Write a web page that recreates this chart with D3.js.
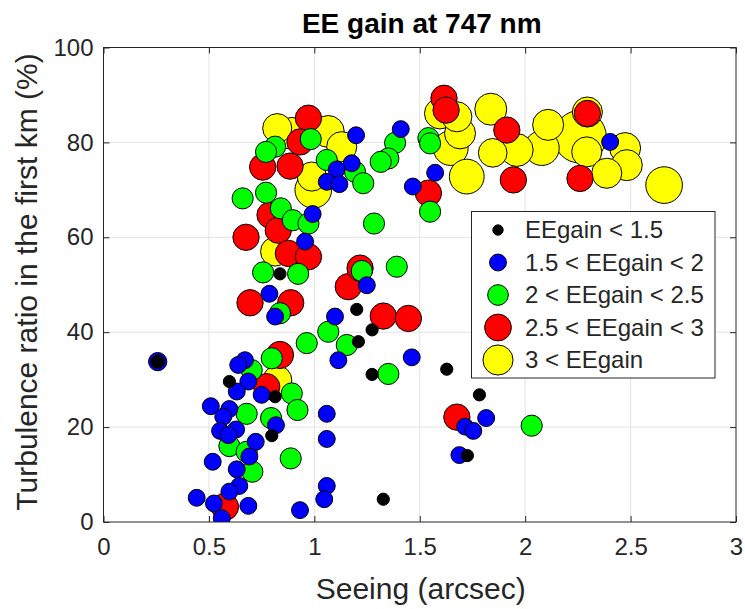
<!DOCTYPE html>
<html><head><meta charset="utf-8">
<script src="https://cdn.jsdelivr.net/npm/d3@7"></script>
<style>
body{margin:0;background:#fff}
svg{display:block}
text{font-family:"Liberation Sans",Arial,Helvetica,sans-serif}
</style>
</head><body>
<svg id="chart" width="745" height="609"></svg>
<script>
// ---- data ----
const title = "EE gain at 747 nm";
const xLabel = "Seeing (arcsec)";
const yLabel = "Turbulence ratio in the first km (%)";
const xTicks = [0, 0.5, 1, 1.5, 2, 2.5, 3];
const yTicks = [0, 20, 40, 60, 80, 100];
const classEdges = [1.5, 2, 2.5, 3];
const classLabels = ["EEgain < 1.5", "1.5 < EEgain < 2", "2 < EEgain < 2.5", "2.5 < EEgain < 3", "3 < EEgain"];
const classColors = ["#000000", "#0000ff", "#00ff00", "#ff0000", "#ffff00"];
const legendGain = [1.1, 1.8, 2.2, 2.85, 3.2];

// black
const seeingK = [0.257,0.837,1.201,1.209,1.274,1.274,0.597,0.814,0.798,1.628,1.783,1.726,1.327];
const ratioK  = [33.8,52.3,44.8,38.0,40.5,31.1,29.6,26.4,18.2,32.2,26.8,14.0,4.8];
const gainK   = [1.45,1.3,1.3,1.3,1.3,1.3,1.3,1.3,1.3,1.3,1.3,1.3,1.3];
// blue
const seeingB = [0.257,1.249,0.787,0.814,1.098,1.114,0.671,0.639,0.687,0.632,0.750,0.509,0.597,0.568,0.818,0.553,0.629,0.592,0.722,0.692,1.059,1.059,0.518,0.632,0.644,0.597,1.059,1.047,0.442,0.524,0.561,0.687,0.932,1.198,1.177,1.106,1.059,1.119,0.992,0.956,1.410,1.573,1.467,1.462,1.715,1.754,1.815,1.688,2.403];
const ratioB  = [33.8,49.9,48.1,43.3,43.3,34.1,34.1,33.1,29.6,27.5,26.8,24.4,23.8,22.2,20.4,19.2,19.5,18.3,16.9,13.8,22.8,17.5,12.7,11.1,7.6,6.4,7.6,4.8,5.1,3.9,0.8,3.4,2.5,81.5,75.6,74.3,71.7,71.2,64.9,59.1,82.8,73.6,70.7,34.7,20.1,19.2,21.9,14.1,80.1];
const gainB   = [1.95,1.8,1.8,1.8,1.8,1.8,1.8,1.8,1.8,1.8,1.8,1.8,1.8,1.8,1.8,1.8,1.8,1.8,1.8,1.8,1.8,1.8,1.8,1.8,1.8,1.8,1.8,1.8,1.8,1.8,1.8,1.8,1.8,1.8,1.8,1.8,1.8,1.8,1.8,1.8,1.8,1.8,1.8,1.8,1.8,1.8,1.8,1.8,1.8];
// green
const seeingG = [0.757,0.923,0.837,1.066,0.964,1.154,0.798,0.703,0.893,0.920,0.679,0.795,0.597,0.679,0.888,0.706,0.983,0.814,0.771,1.059,1.193,1.232,0.660,0.771,0.841,0.898,0.972,1.283,1.541,1.549,1.383,1.351,1.315,1.549,1.391,1.225,1.351,2.031];
const ratioG  = [52.6,52.3,44.0,40.1,37.7,37.3,34.5,32.0,27.1,23.6,22.8,21.9,16.0,14.8,13.4,10.6,80.7,79.1,78.0,76.3,73.8,71.4,68.2,69.4,66.1,63.6,62.9,62.9,80.9,79.8,79.9,76.6,75.9,65.4,53.8,52.9,31.2,20.3];
const gainG   = [2.25,2.25,2.25,2.25,2.25,2.25,2.25,2.25,2.25,2.25,2.25,2.25,2.25,2.25,2.25,2.25,2.25,2.25,2.25,2.25,2.25,2.25,2.25,2.25,2.25,2.25,2.25,2.25,2.25,2.25,2.25,2.25,2.25,2.25,2.25,2.25,2.25,2.25];
// red
const seeingR = [1.161,0.695,0.888,0.837,0.774,0.576,0.972,0.932,0.755,0.885,0.790,0.829,0.676,0.877,0.972,1.217,1.615,1.625,1.913,1.944,1.541,1.327,1.446,1.676,2.295,2.260];
const ratioR  = [49.6,46.2,46.2,35.2,28.5,3.2,85.1,80.1,74.8,75.0,64.7,61.5,60.0,56.6,55.9,53.5,89.3,86.8,82.6,72.1,69.3,43.4,42.9,22.1,86.1,72.4];
const gainR   = [2.8,2.8,2.8,2.9,2.8,2.9,2.8,2.8,2.8,2.8,2.8,2.8,2.8,2.8,2.8,2.8,2.8,2.8,2.8,2.8,2.8,2.8,2.8,2.8,2.8,2.8];
// yellow
const seeingY = [0.824,0.893,1.066,1.130,0.988,0.995,0.814,0.824,1.596,1.676,1.691,1.647,1.837,1.846,1.960,2.079,2.109,2.260,2.474,2.292,2.482,2.387,1.723,2.659,2.295];
const ratioY  = [83.0,81.9,82.3,79.1,72.8,70.0,57.0,29.9,86.1,85.4,81.9,78.8,87.0,77.8,78.4,78.8,83.7,81.2,78.8,78.0,75.2,73.5,72.8,71.0,86.4];
const gainY   = [3.1,3.4,3.4,3.2,3.1,3.9,3.1,3.1,3.3,3.2,3.3,3.7,3.4,3.05,3.5,3.7,3.3,5.6,3.3,3.2,3.3,3.2,3.7,3.9,3.2];

// ---- layout ----
const svg = d3.select("#chart");
const W = 745, H = 609;
const plot = {left: 103.5, top: 47.5, right: 736, bottom: 522};
const axisColor = "#262626";
const gridColor = "#e3e3e3";
const x = d3.scaleLinear().domain([0, 3]).range([plot.left, plot.right]);
const y = d3.scaleLinear().domain([0, 100]).range([plot.bottom, plot.top]);
const diam = d3.scaleLinear().domain([0, 1]).range([0, 9.4]);
const colorOf = d3.scaleThreshold().domain(classEdges).range(classColors);

svg.append("rect").attr("width", W).attr("height", H).attr("fill", "#fff");

// grid
const grid = svg.append("g");
grid.selectAll(".gx").data(xTicks.slice(1, -1)).join("line")
  .attr("x1", d => x(d)).attr("x2", d => x(d))
  .attr("y1", plot.top).attr("y2", plot.bottom)
  .attr("stroke", gridColor).attr("stroke-width", 1);
grid.selectAll(".gy").data(yTicks.slice(1, -1)).join("line")
  .attr("y1", d => y(d)).attr("y2", d => y(d))
  .attr("x1", plot.left).attr("x2", plot.right)
  .attr("stroke", gridColor).attr("stroke-width", 1);

// points
const pts = [];
function addPts(S, R, G) { S.forEach((s, i) => pts.push({s, r: R[i], g: G[i]})); }
addPts(seeingK, ratioK, gainK);
addPts(seeingB, ratioB, gainB);
addPts(seeingG, ratioG, gainG);
addPts(seeingR, ratioR, gainR);
addPts(seeingY, ratioY, gainY);
pts.sort((a, b) => b.g - a.g);

svg.append("defs").append("clipPath").attr("id", "clip")
  .append("rect").attr("x", plot.left).attr("y", plot.top)
  .attr("width", plot.right - plot.left).attr("height", plot.bottom - plot.top);

svg.append("g").attr("clip-path", "url(#clip)")
  .selectAll("circle").data(pts).join("circle")
  .attr("cx", d => x(d.s)).attr("cy", d => y(d.r))
  .attr("r", d => diam(d.g) / 2)
  .attr("fill", d => colorOf(d.g))
  .attr("stroke", "#000").attr("stroke-width", 1);

// axes
function styleAxis(g) {
  g.select(".domain").remove();
  g.selectAll(".tick line").attr("stroke", axisColor);
  g.selectAll(".tick text").attr("fill", axisColor).style("font-size", "24px");
}
svg.append("g").attr("transform", `translate(0,${plot.bottom})`)
  .call(d3.axisBottom(x).tickValues(xTicks).tickSize(-6).tickPadding(16).tickFormat(d3.format("")))
  .call(styleAxis);
svg.append("g").attr("transform", `translate(${plot.left},0)`)
  .call(d3.axisLeft(y).tickValues(yTicks).tickSize(-6).tickPadding(10).tickFormat(d3.format("")))
  .call(styleAxis);
svg.append("g").attr("transform", `translate(0,${plot.top})`)
  .call(d3.axisTop(x).tickValues(xTicks).tickSize(-6).tickFormat(""))
  .call(styleAxis);
svg.append("g").attr("transform", `translate(${plot.right},0)`)
  .call(d3.axisRight(y).tickValues(yTicks).tickSize(-6).tickFormat(""))
  .call(styleAxis);

svg.append("rect").attr("x", plot.left).attr("y", plot.top)
  .attr("width", plot.right - plot.left).attr("height", plot.bottom - plot.top)
  .attr("fill", "none").attr("stroke", axisColor).attr("stroke-width", 1);

// labels
svg.append("text").attr("x", (plot.left + plot.right) / 2 + 2).attr("y", 33)
  .attr("text-anchor", "middle").attr("font-weight", "bold").style("font-size", "28px")
  .attr("fill", "#000").text(title);
svg.append("text").attr("x", (plot.left + plot.right) / 2 + 1).attr("y", 599)
  .attr("text-anchor", "middle").style("font-size", "30px").attr("fill", axisColor).text(xLabel);
svg.append("text").attr("transform", `translate(37,282) rotate(-90)`)
  .attr("text-anchor", "middle").style("font-size", "30px").attr("fill", axisColor).text(yLabel);

// legend
const leg = svg.append("g");
leg.append("rect").attr("x", 471.5).attr("y", 211.5).attr("width", 243.5).attr("height", 166.5)
  .attr("fill", "#fff").attr("stroke", axisColor).attr("stroke-width", 1);
const rowY = d3.scaleLinear().domain([0, 4]).range([230, 360]);
classLabels.forEach((lab, i) => {
  leg.append("circle").attr("cx", 498).attr("cy", rowY(i)).attr("r", diam(legendGain[i]) / 2)
    .attr("fill", classColors[i]).attr("stroke", "#000").attr("stroke-width", 1);
  leg.append("text").attr("x", 525).attr("y", rowY(i)).attr("dy", "0.35em")
    .style("font-size", "24px").attr("fill", axisColor).text(lab);
});
</script>
</body></html>
